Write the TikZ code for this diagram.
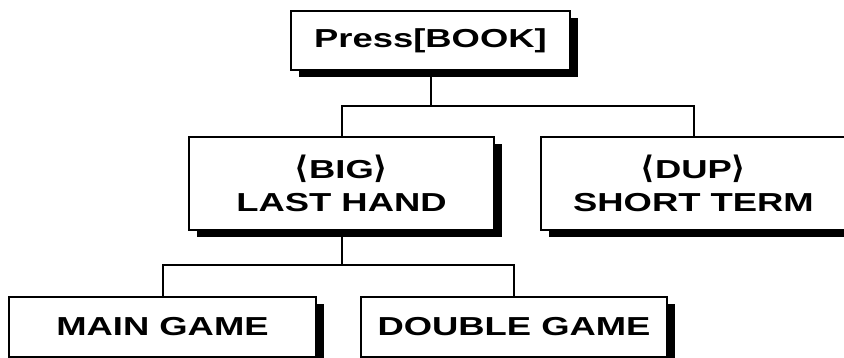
\documentclass[tikz,border=0pt]{standalone}
\usepackage{fontspec}
\usetikzlibrary{shadows}
\newfontfamily\boxfont[FakeStretch=1.4]{Liberation Sans}
\newfontfamily\brfont{DejaVu Sans}
\newcommand{\lab}{{\brfont\fontsize{31}{33}\selectfont\char"27E8}}
\newcommand{\rab}{{\brfont\fontsize{31}{33}\selectfont\char"27E9}}
\begin{document}
\begin{tikzpicture}[x=1pt,y=-1pt,
  menubox/.style={draw, line width=2.4pt, fill=white, rectangle, align=center,
    inner sep=0pt, font=\boxfont\bfseries\fontsize{26}{33}\selectfont,
    drop shadow={shadow xshift=8pt, shadow yshift=-7pt, fill=black, opacity=1}},
  link/.style={draw, line width=2pt}]
\useasboundingbox (0,0) rectangle (844,358);

\node[menubox, minimum width=279pt, minimum height=59pt] (book) at (430.5,40.5) {Press[BOOK]};

\node[menubox, minimum width=305pt, minimum height=93pt] (big) at (341.5,183.5) {\lab BIG\rab\\LAST HAND};
\node[menubox, minimum width=305pt, minimum height=93pt] (dup) at (693.5,183.5) {\lab DUP\rab\\SHORT TERM};

\node[menubox, minimum width=307pt, minimum height=60pt] (main) at (162.5,327) {MAIN GAME};
\node[menubox, minimum width=306pt, minimum height=60pt] (dbl) at (514,327) {DOUBLE GAME};

\coordinate (top bus) at (430.5,106);
\coordinate (low bus) at (341.5,265);

\path[link] (book.south) -- (top bus);
\path[link] (big.north) |- (top bus) -| (dup.north);
\path[link] (big.south) -- (low bus);
\path[link] (main.north) |- (low bus) -| (dbl.north);
\end{tikzpicture}
\end{document}
